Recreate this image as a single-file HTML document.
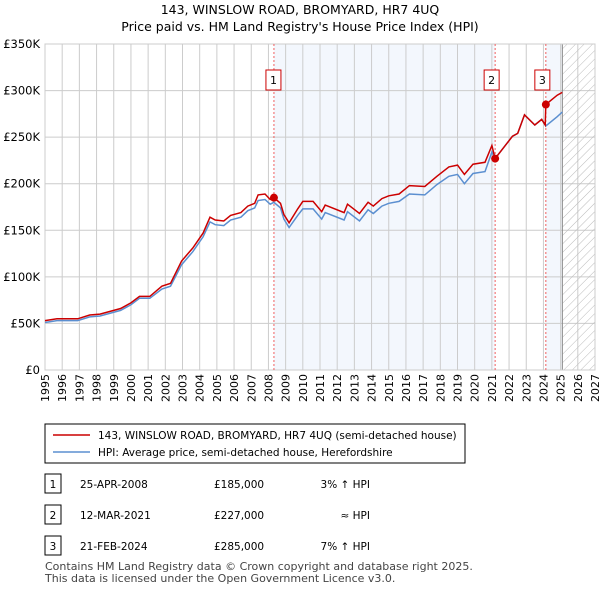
<!DOCTYPE html>
<html><head><meta charset="utf-8"><style>
body{margin:0;background:#fff;font-family:"Liberation Sans","DejaVu Sans",sans-serif;}
svg text{font-family:"DejaVu Sans","Liberation Sans",sans-serif;}
</style></head><body>
<svg id="c" width="600" height="590" xmlns="http://www.w3.org/2000/svg">
<defs><pattern id="hatch" patternUnits="userSpaceOnUse" width="6" height="6" patternTransform="rotate(45)"><line x1="0" y1="0" x2="0" y2="6" stroke="#bbb" stroke-width="1"/></pattern></defs>
<text x="300" y="14" font-size="12.5" text-anchor="middle">143, WINSLOW ROAD, BROMYARD, HR7 4UQ</text>
<text x="300" y="31" font-size="12.5" text-anchor="middle">Price paid vs. HM Land Registry's House Price Index (HPI)</text>
<g id="plot"></g>
<g>
<rect x="45" y="424" width="420" height="39" fill="#fff" stroke="#000" stroke-width="1"/>
<line x1="53" y1="435" x2="90" y2="435" stroke="#cc0000" stroke-width="1.6"/>
<text x="98" y="439" font-size="10.5">143, WINSLOW ROAD, BROMYARD, HR7 4UQ (semi-detached house)</text>
<line x1="53" y1="452" x2="90" y2="452" stroke="#5b8fd0" stroke-width="1.6"/>
<text x="98" y="456" font-size="10.5">HPI: Average price, semi-detached house, Herefordshire</text>
</g>
<g id="table" font-size="10.5"></g>
<text x="45" y="570" font-size="11" fill="#444">Contains HM Land Registry data © Crown copyright and database right 2025.</text>
<text x="45" y="582" font-size="11" fill="#444">This data is licensed under the Open Government Licence v3.0.</text>
</svg>
<script>
const years=[1995.0,1995.7,1996.9,1997.6,1998.2,1999.4,2000.0,2000.5,2001.1,2001.8,2002.3,2002.95,2003.6,2004.2,2004.6,2004.9,2005.4,2005.8,2006.4,2006.8,2007.2,2007.4,2007.8,2008.1,2008.32,2008.7,2008.9,2009.2,2009.7,2010.0,2010.6,2011.1,2011.3,2012.4,2012.6,2013.3,2013.8,2014.1,2014.6,2015.0,2015.6,2016.2,2017.1,2017.8,2018.5,2019.0,2019.4,2019.9,2020.6,2021.0,2021.19,2022.2,2022.5,2022.9,2023.5,2023.9,2024.1,2024.14,2024.8,2025.1];
const price=[53,55,55,59,60,66,72,79,79,90,93,117,131,147,164,161,160,166,169,176,179,188,189,183,185,179,167,158,173,181,181,170,177,169,178,168,180,176,184,187,189,198,197,208,218,220,210,221,223,241,227,251,254,274,263,269,263,285,295,298];
const hpi=[51,53,53,57,58,64,70,77,77,87,90,113,127,143,159,156,155,161,164,171,174,182,183,178,180,174,162,153,166,173,173,162,169,161,170,160,172,168,176,179,181,189,188,199,208,210,200,211,213,234,227,251,254,274,263,269,263,262,272,277];
const sales=[{n:"1",x:2008.32,v:185,d:"25-APR-2008",p:"£185,000",h:"3% ↑ HPI"},{n:"2",x:2021.19,v:227,d:"12-MAR-2021",p:"£227,000",h:"≈ HPI"},{n:"3",x:2024.14,v:285,d:"21-FEB-2024",p:"£285,000",h:"7% ↑ HPI"}];
const yTicks=[0,50,100,150,200,250,300,350];
const yLabels=["£0","£50K","£100K","£150K","£200K","£250K","£300K","£350K"];
const X0=45,X1=595,Y0=370,Y1=44;
const sx=y=>X0+(y-1995)*(X1-X0)/32;
const sy=v=>Y0-v*(Y0-Y1)/350;
const NS="http://www.w3.org/2000/svg";
const g=document.getElementById('plot');
function el(t,a,p){const e=document.createElementNS(NS,t);for(const k in a)e.setAttribute(k,a[k]);(p||g).appendChild(e);return e;}
let r=el('rect',{x:sx(2008.32),y:Y1,width:sx(2021.19)-sx(2008.32),height:Y0-Y1,fill:'#eef3fc',opacity:0.7});

r=el('rect',{x:sx(2024.14),y:Y1,width:sx(2025.1)-sx(2024.14),height:Y0-Y1,fill:'#eef3fc',opacity:0.7});

for(let y=1995;y<=2027;y++){let l=el('line',{x1:sx(y),x2:sx(y),y1:Y1,y2:Y0,stroke:'#ccc','stroke-width':1});

let t=el('text',{x:0,y:0,'font-size':11,'text-anchor':'end',transform:`translate(${sx(y)+4},${Y0+4}) rotate(-90)`});t.textContent=y;
}
yTicks.forEach((v,i)=>{let l=el('line',{x1:X0,x2:X1,y1:sy(v),y2:sy(v),stroke:'#ccc','stroke-width':1});

let t=el('text',{x:40,y:sy(v)+4,'font-size':11.5,'text-anchor':'end'});t.textContent=yLabels[i];
});
r=el('rect',{x:sx(2025.1),y:Y1,width:X1-sx(2025.1),height:Y0-Y1,fill:'url(#hatch)'});

let vl=el('line',{x1:sx(2025.1),x2:sx(2025.1),y1:Y1,y2:Y0,stroke:'#888','stroke-width':1});

let b=el('rect',{x:X0,y:Y1,width:X1-X0,height:Y0-Y1,fill:'none',stroke:'#ccc'});

sales.forEach(s=>{let l=el('line',{x1:sx(s.x),x2:sx(s.x),y1:Y1,y2:Y0,stroke:'#f06060','stroke-width':1,'stroke-dasharray':'2,2'});
});
const pts=a=>a.map((v,i)=>sx(years[i]).toFixed(1)+','+sy(v).toFixed(1)).join(' ');
let p=el('polyline',{points:pts(hpi),fill:'none',stroke:'#5b8fd0','stroke-width':1.5});

p=el('polyline',{points:pts(price),fill:'none',stroke:'#cc0000','stroke-width':1.5});

sales.forEach(s=>{let c=el('circle',{cx:sx(s.x),cy:sy(s.v),r:4,fill:'#cc0000'});

let bx=el('rect',{x:sx(s.x)-8-(s.n=="1"?0:3),y:70,width:15,height:20,fill:'#fff',stroke:'#cc0000'});

let t=el('text',{x:sx(s.x)-0.5-(s.n=="1"?0:3),y:84,'font-size':11,'text-anchor':'middle'});t.textContent=s.n;
});
const tb=document.getElementById('table');
sales.forEach((s,i)=>{const y=484+i*31;
let bx=el('rect',{x:45,y:y-10,width:16,height:19,fill:'#fff',stroke:'#000'},tb);

let t=el('text',{x:53,y:y+4,'text-anchor':'middle'},tb);t.textContent=s.n;
t=el('text',{x:80,y:y+4},tb);t.textContent=s.d;
t=el('text',{x:214,y:y+4},tb);t.textContent=s.p;
t=el('text',{x:370,y:y+4,'text-anchor':'end'},tb);t.textContent=s.h;});
</script>
</body></html>
